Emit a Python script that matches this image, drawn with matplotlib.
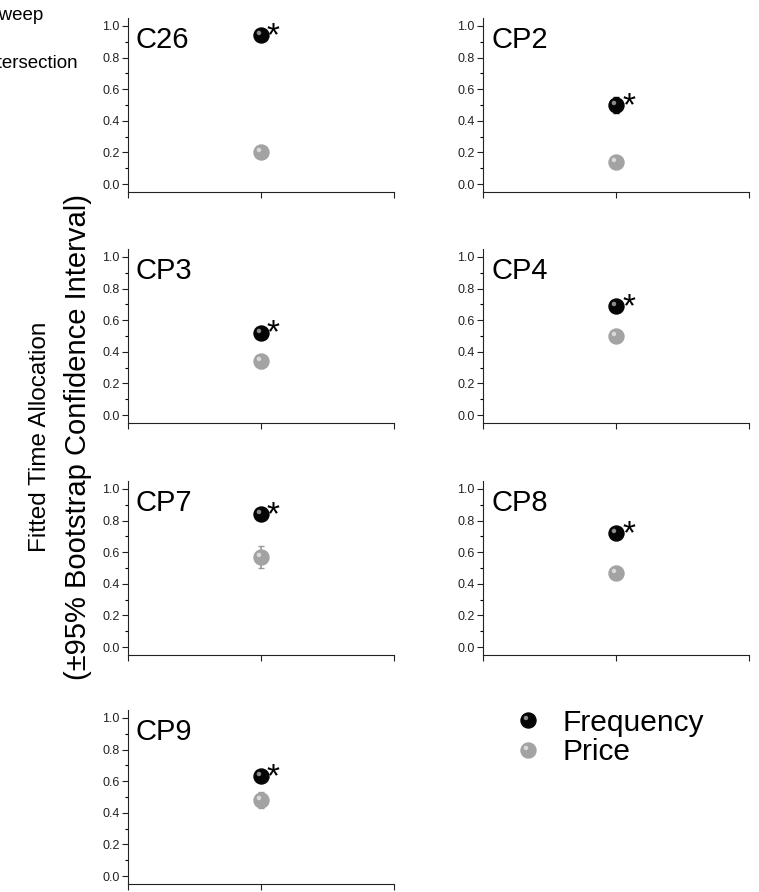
import numpy as np
import matplotlib
matplotlib.use("Agg")
import matplotlib.pyplot as plt
from matplotlib.path import Path
from matplotlib.lines import Line2D
from matplotlib.legend_handler import HandlerTuple

plt.rcParams['font.family'] = ['Liberation Sans', 'DejaVu Sans']

# fitted allocation per condition
conditions = ['C26', 'CP2', 'CP3', 'CP4', 'CP7', 'CP8', 'CP9']
freq_vals = [0.94, 0.50, 0.52, 0.69, 0.84, 0.72, 0.63]
freq_err = [0.02, 0.05, 0.02, 0.02, 0.02, 0.02, 0.02]
price_vals = [0.20, 0.14, 0.34, 0.50, 0.57, 0.47, 0.48]
price_err = [0.02, 0.02, 0.04, 0.02, 0.07, 0.02, 0.05]
significant = [True, True, True, True, True, True, True]

# axes boxes [left, bottom, width, height] in figure fractions
col_x = [0.1686, 0.6364]
row_y = [0.7848, 0.5258, 0.2657, 0.0090]
ax_w, ax_h = 0.3505, 0.195

fig = plt.figure(figsize=(7.59, 8.92), dpi=100)

# small off-centre disc used as the shine on each ball marker
hl_path = Path.circle(center=(-0.17, 0.17), radius=0.15)
hl_extent = 0.32
ms = 10.8


def ball_handles(body, shine, **kw):
    return (Line2D([], [], ls='none', marker='o', ms=ms, mfc=body, mec=body, **kw),
            Line2D([], [], ls='none', marker=hl_path, ms=ms * hl_extent / 0.5,
                   mfc=shine, mec='none', **kw))


def ball(ax, x, y, body, shine):
    ax.plot([x], [y], ls='none', marker='o', ms=ms, mfc=body, mec=body, zorder=3)
    ax.plot([x], [y], ls='none', marker=hl_path, ms=ms * hl_extent / 0.5,
            mfc=shine, mec='none', zorder=4)


for i, name in enumerate(conditions):
    r, c = divmod(i, 2)
    ax = fig.add_axes([col_x[c], row_y[r], ax_w, ax_h])
    ax.set_xlim(0, 2)
    ax.set_ylim(-0.05, 1.05)
    ax.spines['top'].set_visible(False)
    ax.spines['right'].set_visible(False)
    ax.set_xticks([0, 1, 2])
    ax.set_xticklabels([])
    ax.set_yticks([0.0, 0.2, 0.4, 0.6, 0.8, 1.0])
    ax.set_yticks(np.arange(0.1, 1.0, 0.2), minor=True)
    ax.tick_params(axis='both', which='major', direction='out', length=4,
                   width=0.8, labelsize=9, pad=2, colors='#222222')
    ax.tick_params(axis='y', which='minor', direction='out', length=2, width=0.8)
    for s in ('left', 'bottom'):
        ax.spines[s].set_color('#222222')

    ax.errorbar([1], [price_vals[i]], yerr=[price_err[i]], fmt='none',
                ecolor='#9a9a9a', elinewidth=1.2, capsize=2.5, zorder=2)
    ax.errorbar([1], [freq_vals[i]], yerr=[freq_err[i]], fmt='none',
                ecolor='black', elinewidth=1.2, capsize=2.5, zorder=2)
    ball(ax, 1, price_vals[i], '#a3a3a3', '#d9d9d9')
    ball(ax, 1, freq_vals[i], '#050505', '#8c8c8c')

    if significant[i]:
        ax.annotate('*', xy=(1, freq_vals[i]), xytext=(9, -1),
                    textcoords='offset points', ha='center', va='center',
                    fontsize=24)

    ax.text(0.03, 0.875, name, transform=ax.transAxes, ha='left', va='center',
            fontsize=21)

# legend in the free slot
fig.legend([ball_handles('#050505', '#8c8c8c'), ball_handles('#a3a3a3', '#d9d9d9')],
           ['Frequency', 'Price'],
           handler_map={tuple: HandlerTuple(ndivide=1)},
           loc='upper left', bbox_to_anchor=(0.660, 0.219), frameon=False,
           fontsize=21.5, handlelength=1.0, handletextpad=0.65, labelspacing=0.05,
           borderaxespad=0)

fig.text(0.053, 0.51, 'Fitted Time Allocation', rotation=90,
         ha='center', va='center', fontsize=17.5)
fig.text(0.103, 0.51, '(\u00b195% Bootstrap Confidence Interval)', rotation=90,
         ha='center', va='center', fontsize=21)

# labels running in from the left margin
fig.text(43 / 759, 1 - 15 / 892, 'Sweep', ha='right', va='center', fontsize=13.5)
fig.text(78 / 759, 1 - 63 / 892, 'Intersection', ha='right', va='center', fontsize=13.5)

fig.savefig('out.png', dpi=100)
